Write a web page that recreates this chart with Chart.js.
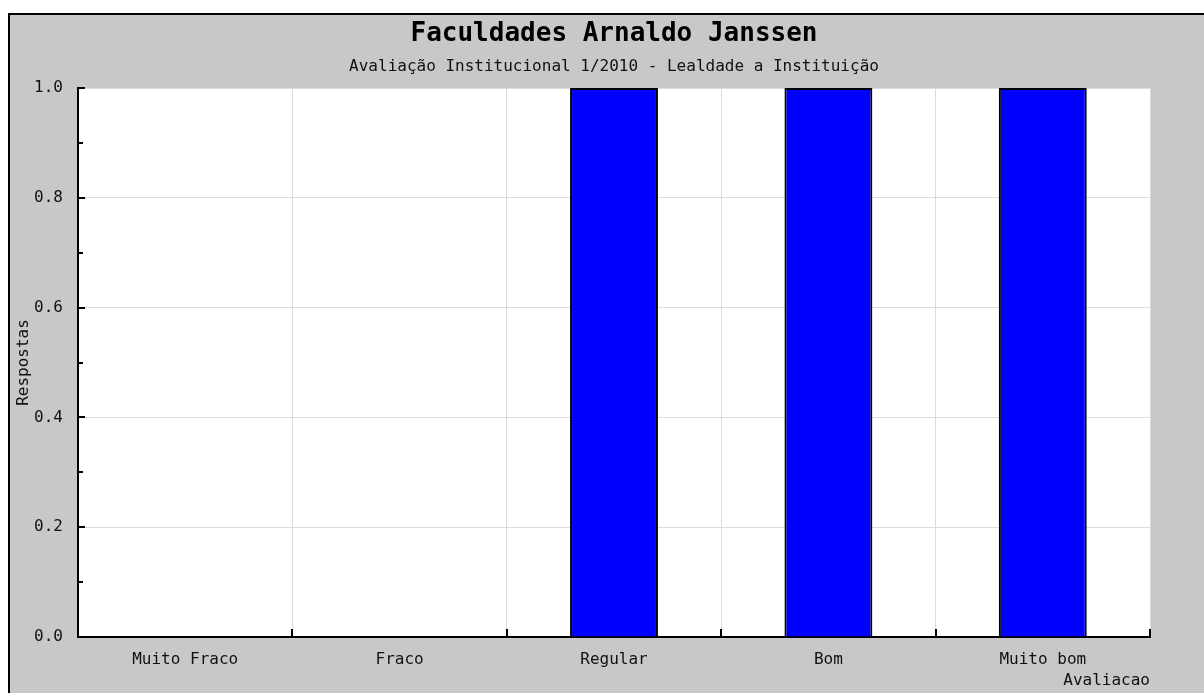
<!DOCTYPE html>
<html lang="pt">
<head>
  <meta charset="UTF-8">
  <title>Faculdades Arnaldo Janssen</title>
  <script src="https://cdn.jsdelivr.net/npm/chart.js"></script>
  <style>
    body {
      margin: 0;
      overflow: hidden;
      background: #fff;
    }
    #wrap {
      width: 1204px;
      height: 693px;
    }
  </style>
</head>
<body>
  <div id="wrap"><canvas id="avaliacaoChart"></canvas></div>

  <script>
    const categories = ['Muito Fraco', 'Fraco', 'Regular', 'Bom', 'Muito bom'];
    const respostas = [0, 0, 1, 1, 1];
    const yTicks = [0, 0.2, 0.4, 0.6, 0.8, 1.0];

    const mono = 'DejaVu Sans Mono';

    // gray panel with black edge, white plot area, inward tick marks
    const frame = {
      id: 'frame',
      beforeDraw(chart) {
        const { ctx, width, height, chartArea: a } = chart;
        ctx.save();
        ctx.fillStyle = '#fff';
        ctx.fillRect(0, 0, width, height);
        ctx.fillStyle = '#c8c8c8';
        ctx.fillRect(8, 13, width - 8, height - 13);
        ctx.fillStyle = '#000';
        ctx.fillRect(8, 13, width - 8, 2);
        ctx.fillRect(8, 13, 2, height - 13);
        ctx.fillStyle = '#fff';
        ctx.fillRect(a.left, a.top, a.right - a.left, a.bottom - a.top);
        ctx.restore();
      },
      afterDraw(chart) {
        const { ctx, scales: { x, y }, chartArea: a } = chart;
        ctx.save();
        ctx.strokeStyle = '#000';
        ctx.lineWidth = 2;
        ctx.beginPath();
        const t = y.ticks.map(k => k.value);
        t.forEach((v, i) => {
          const py = Math.round(y.getPixelForValue(v));
          ctx.moveTo(a.left, py);
          ctx.lineTo(a.left + 7, py);
          if (i < t.length - 1) {
            const pm = Math.round(y.getPixelForValue((v + t[i + 1]) / 2));
            ctx.moveTo(a.left, pm);
            ctx.lineTo(a.left + 5, pm);
          }
        });
        for (let i = 0; i <= categories.length; i++) {
          const px = Math.round(x.getPixelForValue(i - 0.5));
          ctx.moveTo(px, a.bottom);
          ctx.lineTo(px, a.bottom - 8);
        }
        ctx.stroke();
        ctx.restore();
      }
    };

    new Chart(document.getElementById('avaliacaoChart'), {
      type: 'bar',
      data: {
        labels: categories,
        datasets: [{
          label: 'Respostas',
          data: respostas,
          backgroundColor: '#0000ff',
          borderColor: '#000',
          borderWidth: 2,
          categoryPercentage: 1,
          barPercentage: 0.41
        }]
      },
      options: {
        responsive: true,
        maintainAspectRatio: false,
        animation: false,
        layout: {
          padding: { left: 10, right: 54, top: 0, bottom: 0 }
        },
        plugins: {
          legend: { display: false },
          tooltip: { enabled: false },
          title: {
            display: true,
            fullSize: false,
            text: 'Faculdades Arnaldo Janssen',
            color: '#000',
            font: { family: mono, size: 26, weight: 'bold', lineHeight: 1.2 },
            padding: { top: 19, bottom: 0 }
          },
          subtitle: {
            display: true,
            fullSize: false,
            text: 'Avaliação Institucional 1/2010 - Lealdade a Instituição',
            color: '#111',
            font: { family: mono, size: 16, lineHeight: 1.2 },
            padding: { top: 7, bottom: 11.6 }
          }
        },
        scales: {
          x: {
            grid: {
              color: '#dcdcdc',
              lineWidth: 1,
              drawTicks: false,
              offset: true
            },
            border: { color: '#000', width: 2 },
            ticks: {
              color: '#111',
              padding: 13,
              font: { family: mono, size: 16 },
              maxRotation: 0
            },
            title: {
              display: true,
              text: 'Avaliacao',
              align: 'end',
              color: '#111',
              font: { family: mono, size: 16, lineHeight: 1.2 },
              padding: { top: 0, bottom: 3 }
            },
            afterFit(scale) { scale.height = 56; }
          },
          y: {
            min: 0,
            max: 1,
            afterBuildTicks(scale) {
              scale.ticks = yTicks.map(v => ({ value: v }));
            },
            grid: {
              color: '#dcdcdc',
              lineWidth: 1,
              drawTicks: false
            },
            border: { color: '#000', width: 2 },
            ticks: {
              color: '#111',
              padding: 15,
              font: { family: mono, size: 16 },
              callback: v => Number(v).toFixed(1)
            },
            title: {
              display: true,
              text: 'Respostas',
              color: '#111',
              font: { family: mono, size: 16, lineHeight: 1.2 },
              padding: { top: 4, bottom: 0 }
            },
            afterFit(scale) { scale.width = 68; }
          }
        }
      },
      plugins: [frame]
    });
  </script>
</body>
</html>
